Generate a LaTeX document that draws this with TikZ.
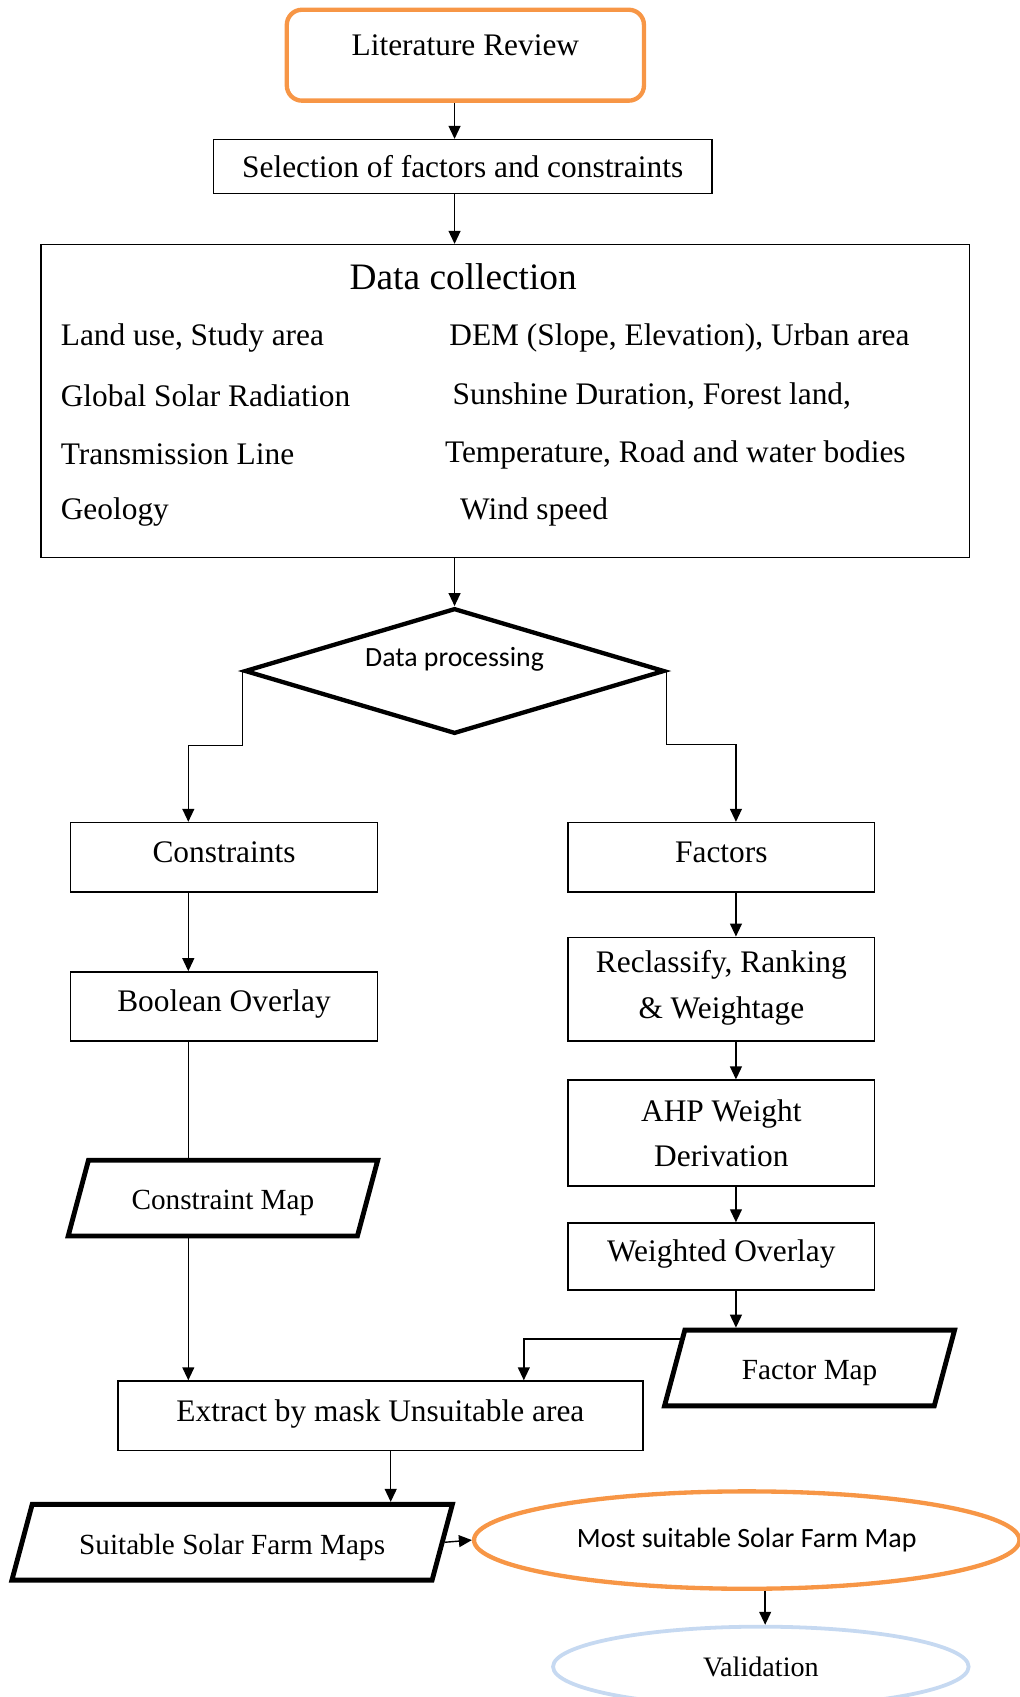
\documentclass[tikz,border=0pt]{standalone}
\usepackage{fontspec}
\setmainfont{Liberation Serif}
\newfontfamily\calfont{Carlito}
\usetikzlibrary{shapes.geometric,arrows.meta,calc}
\definecolor{orng}{HTML}{F79646}
\definecolor{lblue}{HTML}{C6D9F1}
\tikzset{
  box/.style={draw, line width=1.3pt, rectangle, inner sep=0pt, align=center, font=\fontsize{29}{42}\selectfont},
  lift/.style={text height=18pt, text depth=8pt},
  para/.style={draw, line width=4.5pt, trapezium, trapezium left angle=75, trapezium right angle=105,
     trapezium stretches body, inner xsep=0pt, inner ysep=22pt, text height=24pt, text depth=2pt,
     font=\fontsize{27}{36}\selectfont},
  arr/.style={line width=1.3pt, -{Triangle[length=12pt,width=11pt]}},
  ln/.style={line width=1.3pt},
  dtxt/.style={anchor=west, inner sep=0pt, font=\fontsize{29}{36}\selectfont}
}
\begin{document}
\begin{tikzpicture}[x=1pt,y=-1pt]
\useasboundingbox (0,0) rectangle (942,1568);
% nodes
\node[draw=orng, line width=4pt, rounded corners=14pt, minimum width=330pt, minimum height=84pt,
  inner sep=0pt, text height=20pt, text depth=20pt, font=\fontsize{29}{36}\selectfont] (lit) at (430,51) {Literature Review};
\node[box, minimum width=461pt, minimum height=50pt] (sel) at (427.5,154) {Selection of factors and constraints};
\node[box, minimum width=858pt, minimum height=289pt] (dc) at (467,370.5) {};
\node[inner sep=0pt, font=\fontsize{34.5}{40}\selectfont] (dct) at (428,256) {Data collection};
\node[dtxt] (l1) at (56,312) {Land use, Study area};
\node[dtxt] (l2) at (56,366) {Global Solar Radiation};
\node[dtxt] (l3) at (56,420) {Transmission Line};
\node[dtxt] (l4) at (56,473) {Geology};
\node[dtxt] (r1) at (415,312) {DEM (Slope, Elevation), Urban area};
\node[dtxt] (r2) at (418,366) {Sunshine Duration, Forest land,};
\node[dtxt] (r3) at (411,420) {Temperature, Road and water bodies};
\node[dtxt] (r4) at (425,473) {Wind speed};
\node[draw, diamond, aspect=3.34, line width=4pt, minimum width=388pt, minimum height=116pt, inner sep=0pt,
  text height=12pt, text depth=20pt, font=\calfont\fontsize{25.7}{30}\selectfont] (dp) at (420,620) {Data processing};
\node[box, lift, minimum width=284pt, minimum height=64pt] (cons) at (207,792) {Constraints};
\node[box, lift, minimum width=283pt, minimum height=64pt] (fac) at (666.5,792) {Factors};
\node[box, lift, minimum width=284pt, minimum height=64pt] (bool) at (207,930) {Boolean Overlay};
\node[box, minimum width=283pt, minimum height=96pt, text depth=9pt] (recl) at (666.5,914) {Reclassify, Ranking\\\& Weightage};
\node[box, minimum width=283pt, minimum height=98pt] (ahp) at (666.5,1047) {AHP Weight\\Derivation};
\node[box, lift, minimum width=283pt, minimum height=62pt] (wov) at (666.5,1161) {Weighted Overlay};
\node[para, minimum width=286pt] (cmap) at (206,1107) {Constraint Map};
\node[para, minimum width=268pt] (fmap) at (748,1264) {Factor Map};
\node[box, lift, minimum width=485pt, minimum height=64pt] (ext) at (351.5,1308) {Extract by mask Unsuitable area};
\node[para, minimum width=407pt] (ssfm) at (214.5,1425) {Suitable Solar Farm Maps};
\node[draw=orng, ellipse, line width=4pt, minimum width=504pt, minimum height=90pt, inner sep=0pt,
  font=\calfont\fontsize{25.8}{30}\selectfont] (most) at (690,1423) {Most suitable Solar Farm Map};
\node[draw=lblue, ellipse, line width=3.5pt, minimum width=384pt, minimum height=74pt, inner sep=0pt,
  font=\fontsize{26}{30}\selectfont] (val) at (703,1540) {Validation};
% connectors
\draw[arr] ([xshift=-10pt]lit.south) -- ([xshift=-10pt]lit.south |- sel.north);
\draw[arr] ([xshift=-7.5pt]sel.south) -- ([xshift=-7.5pt]sel.south |- dc.north);
\draw[arr] (dp.north |- dc.south) -- (dp.north);
\draw[arr] (dp.west) -- ++(0,69) -| ([xshift=-33pt]cons.north);
\draw[arr] (dp.east) -- ++(0,68) -| ([xshift=13.5pt]fac.north);
\draw[arr] ([xshift=-33pt]cons.south) -- ([xshift=-33pt]bool.north);
\draw[ln] ([xshift=-33pt]bool.south) -- ([xshift=-33pt]bool.south |- cmap.north);
\draw[arr] ([xshift=-33pt]bool.south |- cmap.south) -- ([xshift=-33pt]bool.south |- ext.north);
\draw[arr] ([xshift=13.5pt]fac.south) -- ([xshift=13.5pt]recl.north);
\draw[arr] ([xshift=13.5pt]recl.south) -- ([xshift=13.5pt]ahp.north);
\draw[arr] ([xshift=13.5pt]ahp.south) -- ([xshift=13.5pt]wov.north);
\draw[arr] ([xshift=13.5pt]wov.south) -- ([xshift=13.5pt]wov.south |- fmap.north);
\draw[arr] ($(fmap.top left corner)!0.14!(fmap.bottom left corner)$) -| ([xshift=132.5pt]ext.north);
\draw[arr] ([xshift=9.5pt]ext.south) -- ([xshift=9.5pt]ext.south |- ssfm.north);
\draw[arr] (ssfm.east) -- (most.west);
\draw[arr] ([xshift=17pt]most.south) -- ([xshift=17pt]most.south |- val.north);
\end{tikzpicture}
\end{document}
